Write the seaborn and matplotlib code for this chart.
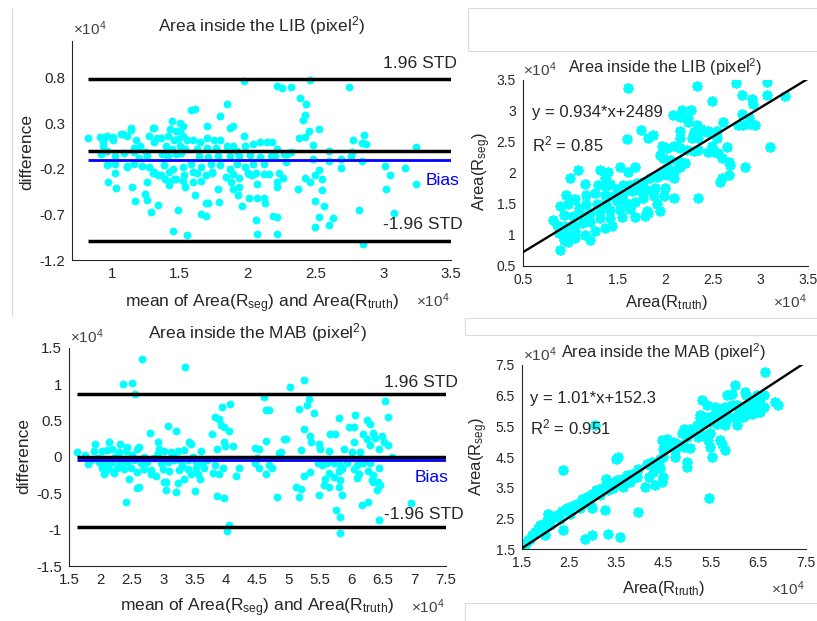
import numpy as np
import matplotlib
matplotlib.use("Agg")
import matplotlib.pyplot as plt
import seaborn as sns
from matplotlib.lines import Line2D

sns.set_style("white")
plt.rcParams['font.family'] = ['Liberation Sans', 'DejaVu Sans']
plt.rcParams['mathtext.fontset'] = 'custom'
plt.rcParams['mathtext.rm'] = 'Liberation Sans'
plt.rcParams['mathtext.it'] = 'Liberation Sans:italic'
plt.rcParams['mathtext.bf'] = 'Liberation Sans:bold'
plt.rcParams['axes.unicode_minus'] = False

# ---------------- data (units of 1e4 pixel^2) ----------------
# Bland-Altman LIB: (mean, difference)
lib_ba = np.array([
    (1.97,0.76),(2.46,0.77),(2.22,0.71),(2.25,0.69),(2.32,0.70),(2.75,0.70),(2.39,0.58),(2.43,0.51),
    (2.42,0.39),(2.41,0.33),(1.85,0.51),(1.58,0.44),(1.61,0.45),(1.80,0.38),(1.70,0.27),(1.87,0.25),
    (1.89,0.27),(1.44,0.32),(1.50,0.30),(1.52,0.27),(2.53,0.24),(2.45,0.21),(2.42,0.15),(2.38,0.14),
    (2.86,0.17),(2.78,0.12),(2.84,0.08),(2.87,0.07),(3.24,0.04),(3.24,-0.37),(3.01,-0.17),(3.05,-0.27),
    (3.02,-0.42),(3.16,-0.19),(3.08,-0.68),(2.82,-0.65),(2.85,-1.03),(2.69,-0.19),(2.69,-0.09),(2.60,0.00),
    (2.60,-0.12),(2.77,-0.02),(2.76,-0.06),(2.84,-0.11),(2.48,0.06),(2.48,-0.09),(2.53,-0.21),(2.55,-0.31),
    (2.55,-0.43),(2.50,-0.55),(2.56,-0.61),(2.53,-0.73),(2.50,-0.84),(2.60,-0.82),(2.63,-0.74),(2.42,-0.30),
    (2.46,-0.34),(2.50,-0.27),(2.37,-0.42),(2.28,-0.13),(2.29,-0.04),(2.26,-0.30),(2.23,-0.25),(2.22,-0.34),
    (2.22,-0.40),(2.19,-0.72),(2.22,-0.73),(2.22,-0.92),(2.07,-0.92),(2.06,-0.76),(2.01,-0.52),(2.07,-0.52),
    (2.12,-0.52),(2.13,-0.58),(2.07,-0.37),(1.96,-0.61),(1.93,-0.49),(1.89,-0.42),(1.88,-0.34),(1.79,-0.56),
    (1.78,-0.42),(1.66,-0.70),(1.69,-0.72),(1.71,-0.58),(1.69,-0.57),(1.61,-0.49),(1.49,-0.65),(1.45,-0.88),
    (1.55,-0.93),(1.34,-0.60),(1.29,-0.67),(1.26,-0.54),(1.24,-0.48),(1.17,-0.55),(1.15,-0.40),(1.03,-0.41),
    (0.97,-0.34),(1.02,-0.25),(0.97,-0.15),(1.02,-0.15),(0.92,-0.04),(0.82,0.14),(0.91,0.15),(0.96,0.16),
    (1.01,0.15),(0.93,0.09),(1.08,0.18),(1.11,0.16),(1.14,0.25),(1.09,-0.03),(1.11,-0.17),(1.16,-0.15),
    (1.18,0.12),(1.21,0.05),(1.16,-0.02),(1.27,0.16),(1.31,0.25),(1.31,0.09),(1.33,0.14),(1.26,-0.06),
    (1.27,-0.18),(1.26,-0.34),(1.31,-0.24),(1.34,-0.27),(1.36,0.14),(1.41,0.16),(1.46,0.12),(1.49,0.13),
    (1.52,0.16),(1.55,0.12),(1.43,0.24),(1.47,0.21),(1.50,0.21),(1.40,0.05),(1.44,0.02),(1.50,0.05),
    (1.54,0.02),(1.37,-0.04),(1.41,-0.06),(1.47,-0.04),(1.51,-0.03),(1.38,-0.16),(1.45,-0.20),(1.52,-0.18),
    (1.58,-0.15),(1.42,-0.34),(1.46,-0.31),(1.52,-0.33),(1.54,-0.40),(1.60,-0.34),(1.60,0.12),(1.65,0.09),
    (1.70,0.14),(1.75,0.12),(1.80,0.11),(1.63,0.02),(1.70,0.03),(1.77,0.03),(1.85,0.05),(1.64,-0.06),
    (1.71,-0.07),(1.78,-0.06),(1.87,-0.06),(1.66,-0.18),(1.73,-0.15),(1.80,-0.16),(1.87,-0.20),(1.63,-0.25),
    (1.69,-0.27),(1.74,-0.24),(1.84,-0.29),(1.89,0.05),(1.92,0.00),(1.97,0.16),(1.98,0.05),(2.04,0.07),
    (2.09,0.09),(2.14,0.09),(2.18,0.09),(1.94,-0.06),(2.02,-0.05),(2.09,-0.07),(2.17,-0.06),(2.20,-0.06),
    (1.92,-0.15),(1.98,-0.18),(2.04,-0.15),(2.12,-0.15),(2.01,-0.26),(2.06,-0.25),(2.12,-0.26),(2.16,-0.26),
    (1.94,-0.30),(2.27,-0.04),(2.32,-0.02),(2.22,0.02),(0.95,0.15),(1.01,0.12),(1.07,0.18),(1.14,0.23),
    (1.30,0.25),(0.93,0.05),(0.96,0.00),(1.02,-0.06),(1.16,0.03),(1.20,-0.08),(1.25,-0.02),(0.96,-0.16),
    (1.11,-0.18),(1.22,-0.17),(1.30,-0.25),(1.36,-0.27),(1.42,-0.24),(1.47,-0.31),(1.39,-0.31),(1.42,-0.38),
    (1.53,-0.27),(1.60,-0.24),(1.66,-0.33),(1.74,-0.25),(1.89,-0.26),(1.94,-0.40),(2.00,-0.25),(2.03,-0.27),
])

# Bland-Altman MAB: (mean, difference)
mab_ba = np.array([
    (1.63,0.06),(1.92,0.17),(2.14,0.21),(2.32,0.17),(2.43,0.14),(2.59,0.11),(2.62,0.14),(1.90,0.08),
    (2.03,0.08),(2.11,0.09),(2.19,0.11),(2.30,0.07),(2.40,0.08),(1.85,-0.05),(1.98,-0.07),(2.08,-0.09),
    (2.19,-0.07),(2.32,-0.09),(2.43,-0.07),(2.54,-0.05),(2.64,-0.09),(2.75,-0.07),(2.03,-0.16),(2.14,-0.17),
    (2.27,-0.15),(2.38,-0.17),(2.48,-0.15),(2.69,-0.17),(2.80,-0.18),(2.06,-0.23),(2.80,-0.24),(2.46,-0.30),
    (2.59,-0.43),(2.62,-0.41),(2.40,-0.62),(2.79,0.33),(2.92,0.20),(2.93,0.11),(3.08,0.42),(3.21,0.35),
    (2.91,0.05),(3.01,0.08),(3.12,0.07),(3.23,0.08),(3.33,0.09),(3.41,0.21),(3.45,0.17),(3.61,0.08),
    (2.96,-0.08),(3.07,-0.07),(3.17,-0.05),(3.28,-0.06),(3.39,-0.05),(3.52,-0.07),(3.62,-0.08),(2.99,-0.17),
    (3.09,-0.20),(3.25,-0.18),(3.39,-0.17),(3.52,-0.16),(3.65,-0.16),(3.01,-0.34),(3.04,-0.35),(3.23,-0.36),
    (3.33,-0.30),(3.44,-0.24),(3.56,-0.24),(3.21,-0.48),(3.50,-0.47),(3.04,-0.46),(3.78,0.32),(3.83,0.55),
    (3.89,0.52),(3.94,0.69),(4.06,0.73),(3.92,0.44),(3.97,0.41),(4.05,0.36),(3.86,0.11),(3.97,0.21),
    (3.99,0.15),(4.11,0.15),(4.21,-0.15),(4.16,-0.26),(3.79,-0.22),(3.89,-0.24),(3.95,-0.16),(3.82,-0.11),
    (3.86,-0.54),(3.97,-0.57),(4.05,-0.94),(4.01,-1.02),(4.47,0.12),(4.47,-0.09),(2.67,1.34),(3.35,1.23),
    (2.36,1.00),(2.51,1.02),(2.55,0.87),
    (5.25,1.06),(5.02,0.96),(4.60,0.82),(4.63,0.65),(4.69,0.65),(5.32,0.79),(5.29,0.71),(5.17,0.66),
    (5.41,0.60),(6.54,0.77),(6.58,0.55),(5.80,0.54),(6.06,0.57),(5.96,0.41),(6.04,0.41),(6.24,0.50),
    (6.29,0.45),(5.25,0.38),(5.34,0.28),(5.36,0.20),(5.48,0.18),(5.65,0.31),(5.73,0.32),(6.04,0.21),
    (6.19,0.31),(6.25,0.25),(6.35,0.33),(6.38,0.26),(6.49,0.28),(6.51,0.21),(6.58,0.16),(4.92,0.24),
    (4.95,0.25),(4.64,0.22),(5.20,0.09),(5.50,0.11),(5.64,0.08),(5.88,0.11),(6.01,0.07),(6.14,0.06),
    (6.30,0.16),(6.43,0.11),(6.65,0.00),(4.84,0.05),(4.87,0.06),(4.52,0.11),(4.68,-0.11),(4.73,-0.15),
    (4.63,-0.23),(4.52,-0.16),(5.47,-0.09),(5.53,-0.11),(5.61,-0.08),(5.72,-0.09),(5.82,-0.11),(5.93,-0.09),
    (6.09,-0.11),(6.19,-0.08),(6.30,-0.09),(6.43,-0.15),(5.34,-0.21),(5.64,-0.22),(5.80,-0.20),(5.85,-0.17),
    (6.04,-0.17),(6.12,-0.23),(6.27,-0.20),(6.35,-0.25),(5.24,-0.26),(5.58,-0.30),(5.72,-0.28),(5.82,-0.32),
    (6.09,-0.29),(6.33,-0.32),(6.34,-0.35),(6.46,-0.38),(5.12,-0.41),(5.20,-0.44),(5.48,-0.52),(5.56,-0.39),
    (5.64,-0.41),(5.80,-0.41),(5.85,-0.53),(6.41,-0.46),(6.42,-0.35),(4.81,-0.55),(5.17,-0.55),(5.76,-0.73),
    (5.82,-0.83),(5.81,-1.05),(6.17,-0.66),(6.26,-0.62),(6.43,-0.87),(6.95,-0.64),(4.50,-0.02),
    (1.75,0.02),(1.80,-0.10),(1.96,-0.02),(2.24,0.00),(2.36,-0.03),(2.50,0.02),(2.70,0.00),(2.86,-0.02),
    (3.15,0.01),(3.30,-0.12),(3.47,0.00),(3.58,-0.30),(3.70,-0.05),(2.22,-0.22),(2.58,-0.21),(2.88,-0.27),
])

# Regression LIB: (Area(R_truth), Area(R_seg))
lib_reg = np.array([
    (1.61,3.37),(1.60,2.54),(1.75,2.70),(1.82,2.57),(1.87,2.61),(1.97,2.43),(1.95,2.29),(1.31,2.05),
    (1.40,2.02),(1.52,2.09),(1.61,2.02),(1.68,2.10),(1.08,2.04),(1.00,1.91),(1.16,1.82),(1.37,1.92),
    (1.29,1.81),(1.38,1.78),(1.42,1.82),(1.49,1.74),(1.56,1.81),(1.63,1.80),(1.70,1.84),(1.77,1.86),
    (1.84,1.92),(1.91,1.94),(1.96,1.97),(0.96,1.65),(1.05,1.58),(1.17,1.64),(1.26,1.67),(1.37,1.65),
    (1.45,1.62),(1.56,1.66),(1.65,1.70),(1.74,1.71),(1.81,1.73),(1.89,1.76),(0.89,1.46),(0.98,1.49),
    (1.09,1.43),(1.17,1.49),(1.28,1.50),(1.38,1.50),(1.49,1.54),(1.59,1.51),(1.68,1.53),(1.77,1.59),
    (1.88,1.62),(0.93,1.32),(1.03,1.31),(1.12,1.32),(1.21,1.35),(1.31,1.38),(1.42,1.40),(1.52,1.40),
    (1.63,1.42),(1.81,1.38),(1.82,1.35),(0.82,1.24),(0.86,1.16),(0.95,1.14),(1.03,1.16),(1.12,1.19),
    (1.21,1.21),(1.31,1.27),(1.42,1.27),(1.54,1.28),(1.68,1.28),(1.79,1.30),(0.88,1.03),(0.96,1.00),
    (1.05,1.06),(1.16,1.00),(1.26,1.06),(1.37,1.11),(1.44,1.14),(0.89,0.76),(0.98,0.89),(1.05,0.95),
    (1.21,0.92),(0.93,0.92),(1.91,1.49),(1.95,1.38),
    (2.33,3.40),(2.75,3.45),(3.07,3.47),(2.81,3.25),(3.07,3.26),(3.26,3.24),(2.91,3.20),(2.92,3.11),
    (2.49,3.16),(2.27,3.02),(2.18,3.02),(2.08,2.93),(2.16,2.90),(2.24,2.89),(2.24,2.82),(2.33,2.78),
    (2.38,2.71),(2.45,2.68),(2.34,2.67),(2.61,2.82),(2.81,2.95),(2.88,2.89),(2.82,2.78),(2.89,2.79),
    (2.95,2.78),(2.77,2.78),(2.16,2.57),(2.28,2.57),(2.30,2.66),(2.44,2.66),(2.35,2.56),(2.55,2.68),
    (2.54,2.56),(2.49,2.43),(2.51,2.34),(2.45,2.34),(2.56,2.32),(2.60,2.24),(2.67,2.17),(2.68,2.12),
    (2.67,1.97),(2.60,1.92),(2.58,1.86),(2.65,2.41),(2.84,2.09),(3.10,2.41),(2.02,2.40),(2.09,2.43),
    (2.16,2.40),(2.23,2.37),(2.30,2.35),(2.35,2.37),(1.98,2.24),(2.05,2.21),(2.14,2.19),(2.21,2.16),
    (2.02,2.08),(2.10,2.05),(2.16,2.10),(1.96,1.99),(2.03,1.97),(2.09,1.92),(2.00,1.76),(1.99,1.62),
    (2.09,1.59),(2.35,1.59),(2.30,2.62),(2.16,2.67),
])

# Regression MAB: (Area(R_truth), Area(R_seg))
mab_reg = np.array([
    (3.05,5.54),(2.38,4.07),(3.54,4.51),(3.50,4.43),(2.06,2.66),(3.26,2.77),(3.96,2.72),(2.84,1.85),
    (2.98,1.96),(3.33,2.01),(3.58,1.91),(4.46,5.05),(4.49,4.78),(4.14,4.29),(4.25,4.34),(4.35,4.24),
    (4.42,4.15),(4.18,3.86),(4.28,4.02),(4.11,3.53),(4.32,3.58),(4.49,4.51),(4.49,3.86),
    (3.96,4.13),(3.82,3.96),(3.72,3.91),(3.61,3.80),(3.51,3.75),(3.40,3.67),(3.29,3.58),(3.19,3.50),
    (3.08,3.42),(2.98,3.31),(2.87,3.21),(2.77,3.13),(2.66,2.99),(2.56,2.91),(2.45,2.83),(2.35,2.74),
    (2.24,2.63),(2.13,2.55),(2.03,2.45),(1.92,2.28),(1.85,2.18),(1.78,2.07),(1.71,1.96),(1.64,1.80),
    (1.57,1.65),(1.54,1.58),(2.84,3.04),(2.94,2.99),(3.15,3.26),(3.33,3.42),(3.43,3.48),(3.58,3.64),
    (3.65,3.53),(3.79,3.69),(3.93,3.86),(3.29,3.80),(2.98,2.83),(2.73,2.83),(2.52,2.66),(2.31,2.50),
    (2.10,2.28),(1.96,2.12),(1.89,2.28),(2.38,2.12),(1.61,1.74),(1.68,1.85),(1.99,1.96),
    (6.64,7.27),(6.01,6.86),(5.83,6.51),(5.94,6.57),(6.22,6.62),(6.24,6.51),(6.32,6.40),(6.47,6.51),
    (6.54,6.43),(6.61,6.51),(5.30,6.35),(5.41,6.21),(6.85,6.30),(6.92,6.19),(5.59,6.13),(5.69,6.08),
    (5.80,6.13),(5.94,6.19),(6.04,6.21),(6.15,6.13),(6.29,6.08),(6.43,6.19),(6.54,6.24),(6.61,6.13),
    (6.47,5.97),(6.36,5.92),(6.22,5.86),(6.08,5.92),(6.01,5.81),(6.18,5.81),(6.54,5.97),(5.27,5.77),
    (5.37,5.81),(5.48,5.81),(5.59,5.86),(5.73,5.86),(5.83,5.75),(5.90,5.81),(5.20,5.54),(5.34,5.59),
    (5.48,5.65),(5.62,5.59),(5.80,5.54),(6.04,5.54),(4.92,5.43),(5.06,5.43),(5.13,5.32),(4.88,5.27),
    (4.99,5.16),(5.23,5.16),(5.34,5.21),(5.48,5.27),(5.44,5.05),(5.48,4.83),(5.69,5.05),(5.73,4.94),
    (5.80,4.72),(5.51,4.51),(4.56,5.10),(4.53,4.78),(4.74,4.72),(4.92,4.83),(5.06,4.80),(4.74,4.51),
    (4.99,4.34),(4.99,4.18),(4.42,4.45),(4.46,3.69),(5.46,3.17),(5.27,5.86),(5.34,5.70),(4.70,4.99),
    (4.81,4.94),(4.60,4.89),
])

# Bland-Altman statistics (bias, +1.96 STD, -1.96 STD)
lib_stats = [-0.105, 0.78, -0.99]
mab_stats = [-0.045, 0.87, -0.96]
# regression fits (slope, intercept in 1e4)
lib_fit = [0.934, 0.2489]
mab_fit = [1.01, 0.01523]

lib_xticks = [1, 1.5, 2, 2.5, 3, 3.5]
lib_yticks = [-1.2, -0.7, -0.2, 0.3, 0.8]
mab_xticks = [1.5, 2, 2.5, 3, 3.5, 4, 4.5, 5, 5.5, 6, 6.5, 7, 7.5]
mab_yticks = [-1.5, -1, -0.5, 0, 0.5, 1, 1.5]
lreg_ticks = [0.5, 1, 1.5, 2, 2.5, 3, 3.5]
mreg_ticks = [1.5, 2.5, 3.5, 4.5, 5.5, 6.5, 7.5]

# ---------------- figure ----------------
W, H = 817, 621
fig = plt.figure(figsize=(W / 100, H / 100), dpi=100)
fig.patch.set_facecolor('white')


def P(x, y):
    return (x / W, 1 - y / H)


def box(l, t, r, b):
    return [l / W, 1 - b / H, (r - l) / W, (b - t) / H]


TC = '#262626'


def style(ax, xlim, ylim, xt, yt, fs):
    ax.set_xlim(xlim)
    ax.set_ylim(ylim)
    ax.set_xticks(xt)
    ax.set_yticks(yt)
    ax.set_xticklabels([f"{v:g}" for v in xt])
    ax.set_yticklabels([f"{v:g}" for v in yt])
    for s in ['top', 'right']:
        ax.spines[s].set_visible(False)
    for s in ['left', 'bottom']:
        ax.spines[s].set_color(TC)
        ax.spines[s].set_linewidth(0.8)
    ax.tick_params(direction='in', length=4, width=0.8, colors=TC,
                   labelcolor=TC, labelsize=fs, pad=5)
    ax.set_xlabel('')
    ax.set_ylabel('')
    ax.set_facecolor('white')


ax1 = fig.add_axes(box(72, 41, 451, 260))
ax2 = fig.add_axes(box(522.7, 80, 807.7, 265.7))
ax3 = fig.add_axes(box(69, 347.7, 445.7, 566))
ax4 = fig.add_axes(box(521.7, 365, 805.7, 549.3))


def bland(ax, data, stats, xmax, labx, bx, lab_y):
    sns.scatterplot(x=data[:, 0], y=data[:, 1], ax=ax, color='#00ffff',
                    s=32, linewidth=0, zorder=2, legend=False)
    x0 = data[:, 0].min()
    bias, up, lo = stats
    for yv in (up, 0.0, lo):
        ax.plot([x0, xmax], [yv, yv], color='black', lw=2.5, zorder=3,
                solid_capstyle='butt')
    ax.plot([x0, xmax], [bias, bias], color='#0000ff', lw=2.0, zorder=4,
            solid_capstyle='butt')
    ax.text(labx, lab_y[0], '1.96 STD', fontsize=12.6, ha='left',
            va='baseline', clip_on=False)
    ax.text(bx, lab_y[1], 'Bias', fontsize=12.6, ha='left', va='baseline',
            color='#0000ff', clip_on=False)
    ax.text(labx, lab_y[2], '-1.96 STD', fontsize=12.6, ha='left',
            va='baseline', clip_on=False)


bland(ax1, lib_ba, lib_stats, 3.5, 3.0, 3.31, (0.90, -0.38, -0.86))
style(ax1, (0.705, 3.5), (-1.2, 1.2), lib_xticks, lib_yticks, 10.8)

bland(ax3, mab_ba, mab_stats, 7.5, 6.51, 7.01, (0.96, -0.34, -0.86))
style(ax3, (1.5, 7.5), (-1.5, 1.5), mab_xticks, mab_yticks, 10.8)


def regress(ax, data, fit, lim, txt, tpos):
    sns.scatterplot(x=data[:, 0], y=data[:, 1], ax=ax, color='#00ffff',
                    edgecolor='#00ffff', marker=(8, 2, 0), s=28,
                    linewidth=2.2, zorder=2, legend=False)
    xs = np.array(lim)
    ax.plot(xs, fit[0] * xs + fit[1], color='black', lw=1.7, zorder=3)
    ax.text(tpos[0], tpos[1], txt[0], fontsize=12, ha='left', va='baseline')
    ax.text(tpos[0], tpos[2], txt[1], fontsize=12, ha='left', va='baseline')


regress(ax2, lib_reg, lib_fit, (0.5, 3.5),
        ('y = 0.934*x+2489', 'R$^2$ = 0.85'), (0.595, 2.90, 2.34))
style(ax2, (0.5, 3.5), (0.5, 3.5), lreg_ticks, lreg_ticks, 10)

regress(ax4, mab_reg, mab_fit, (1.5, 7.5),
        ('y = 1.01*x+152.3', 'R$^2$ = 0.951'), (1.68, 6.27, 5.25))
style(ax4, (1.5, 7.5), (1.5, 7.5), mreg_ticks, mreg_ticks, 10)

# titles
fig.text(*P(261.5, 31.7), 'Area inside the LIB (pixel$^2$)', fontsize=12.5,
         ha='center', va='baseline')
fig.text(*P(665.5, 72.7), 'Area inside the LIB (pixel$^2$)', fontsize=11.7,
         ha='center', va='baseline')
fig.text(*P(257.3, 338.3), 'Area inside the MAB (pixel$^2$)', fontsize=12.5,
         ha='center', va='baseline')
fig.text(*P(663.7, 357.7), 'Area inside the MAB (pixel$^2$)', fontsize=11.7,
         ha='center', va='baseline')

# x labels
mlab = 'mean of Area(R$_{\\rm seg}$) and Area(R$_{\\rm truth}$)'
fig.text(*P(261.7, 307), mlab, fontsize=12.5, ha='center', va='baseline')
fig.text(*P(256.7, 611.7), mlab, fontsize=12.5, ha='center', va='baseline')
fig.text(*P(666.7, 307), 'Area(R$_{\\rm truth}$)', fontsize=12, ha='center',
         va='baseline')
fig.text(*P(664, 592.7), 'Area(R$_{\\rm truth}$)', fontsize=12, ha='center',
         va='baseline')

# y labels
fig.text(*P(27, 151.7), 'difference', fontsize=12.5, rotation=90,
         ha='center', va='center')
fig.text(*P(23.4, 455.8), 'difference', fontsize=12.5, rotation=90,
         ha='center', va='center')
fig.text(*P(481.7, 171.7), 'Area(R$_{\\rm seg}$)', fontsize=12, rotation=90,
         ha='center', va='center')
fig.text(*P(479, 456.7), 'Area(R$_{\\rm seg}$)', fontsize=12, rotation=90,
         ha='center', va='center')

# exponent markers
EC = '#404040'
for (x, y, ha) in [(73, 35, 'left'), (70, 342.7, 'left'), (523.3, 76, 'left'),
                   (523.3, 360.7, 'left'), (450, 306.7, 'right'),
                   (806.7, 308, 'right'), (445, 613, 'right'),
                   (805, 595, 'right')]:
    fig.text(*P(x, y), '×10$^4$', fontsize=11, color=EC, ha=ha, va='baseline')

# light-gray screenshot borders
GC = '#dcdcdc'
segs = [((12, 8), (12, 316)),
        ((468, 8), (817, 8)), ((468, 8), (468, 51)), ((468, 51), (817, 51)),
        ((465, 318), (817, 318)), ((465, 318), (465, 335)), ((465, 335), (817, 335)),
        ((465, 603), (817, 603)), ((465, 603), (465, 621))]
for (a, b) in segs:
    pa, pb = P(*a), P(*b)
    fig.add_artist(Line2D([pa[0], pb[0]], [pa[1], pb[1]], color=GC, lw=0.8,
                          transform=fig.transFigure))

fig.savefig('out.png', dpi=100, facecolor='white')
